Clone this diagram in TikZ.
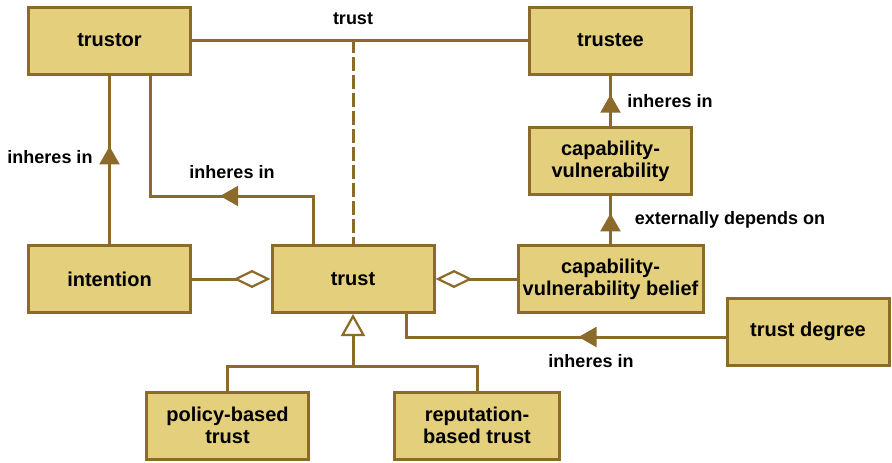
\documentclass[tikz,border=0pt]{standalone}
\usepackage{fontspec}
\setmainfont{Liberation Sans}
\usetikzlibrary{arrows.meta,decorations.markings}
\definecolor{boxfill}{RGB}{227,207,124}
\definecolor{boxline}{RGB}{139,106,42}
\begin{document}
\begin{tikzpicture}[x=1pt,y=-1pt,line width=3pt,
  box/.style={draw=boxline,fill=boxfill,minimum width=162pt,minimum height=67pt,inner sep=2pt,align=center,font=\fontsize{20}{22}\selectfont\bfseries},
  lbl/.style={font=\fontsize{18}{20}\selectfont\bfseries},
  link/.style={draw=boxline,line cap=rect},
  midtri/.style={link,postaction={decorate},decoration={markings,mark=at position #1 with {\arrow{Triangle[length=18pt,width=20pt,color=boxline,line width=2pt]}}}},
  agg/.style={link,-{Diamond[length=37pt,width=18pt,color=boxline,fill=white,line width=2.2pt]}},
  gen/.style={link,-{Triangle[length=22pt,width=24pt,color=boxline,fill=white,line width=2.2pt]}}]
\useasboundingbox (0,0) rectangle (892,463);

\node[box] (trustor) at (109.5,40.5) {trustor};
\node[box] (trustee) at (610.5,40.5) {trustee};
\node[box] (capvul) at (610.5,161) {capability-\\vulnerability};
\node[box,minimum width=185pt] (capbel) at (610.5,279) {capability-\\vulnerability belief};
\node[box] (trust) at (353,279) {trust};
\node[box] (intention) at (109.5,279) {intention};
\node[box] (degree) at (808,331.5) {trust degree};
\node[box] (policy) at (227.5,425.5) {policy-based\\trust};
\node[box,minimum width=165pt] (reput) at (477,425.5) {reputation-\\based trust};

\coordinate (tj) at (353,40.5);
\draw[link] (trustor.east) -- (trustee.west);
\node[lbl] (trustlbl) at (353,19) {trust};
\draw[link,dash pattern=on 11pt off 7pt] (tj) -- (trust.north);

\draw[midtri=0.58] (intention.north) -- (trustor.south);
\node[lbl] (inh1) at (50,157) {inheres in};

\coordinate (b1) at (313,196);
\coordinate (b2) at (150,196);
\draw[link] (b1 |- trust.north) -- (b1);
\draw[midtri=0.57] (b1) -- (b2);
\draw[link] (b2) -- (b2 |- trustor.south);
\node[lbl] (inh2) at (232,172) {inheres in};

\draw[agg] (intention.east) -- (trust.west);
\draw[agg] (capbel.west) -- (trust.east);

\coordinate (c1) at (406,337);
\draw[midtri=0.46] (degree.west |- c1) -- (c1);
\draw[link] (c1) -- (c1 |- trust.south);
\node[lbl] (inh3) at (591,361) {inheres in};

\coordinate (gj) at (353,366);
\draw[link] (policy.north) |- (gj) -| (reput.north);
\draw[gen] (gj) -- (trust.south);

\draw[midtri=0.62] (capvul.north) -- (trustee.south);
\node[lbl] (inh4) at (670,101) {inheres in};
\draw[midtri=0.64] (capbel.north) -- (capvul.south);
\node[lbl] (dep) at (730,220) {externally depends on};
\end{tikzpicture}
\end{document}
